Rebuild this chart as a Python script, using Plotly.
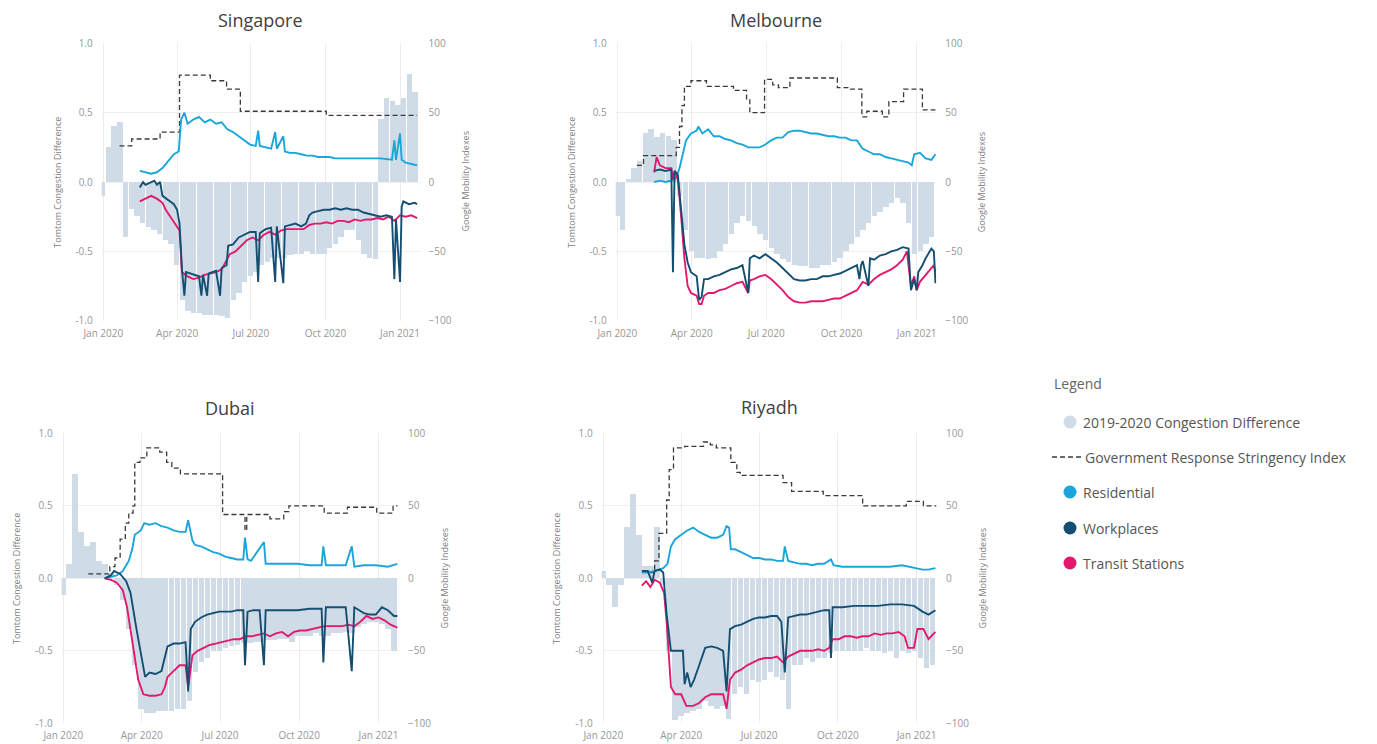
import plotly.graph_objects as go
import pandas as pd

# ---------------- DATA ----------------
# days are offsets from 2020-01-01
week_days = list(range(-1, 385, 7))  # weekly bar positions (56 weeks)

tick_dates = ["2020-01-01", "2020-04-01", "2020-07-01", "2020-10-01", "2021-01-01"]
tick_labels = ["Jan 2020", "Apr 2020", "Jul 2020", "Oct 2020", "Jan 2021"]
left_ticks = [-1, -0.5, 0, 0.5, 1]
left_labels = ["-1.0", "-0.5", "0.0", "0.5", "1.0"]
right_ticks = [-100, -50, 0, 50, 100]

city_names = ["Singapore", "Melbourne", "Dubai", "Riyadh"]
legend_names = ["2019-2020 Congestion Difference", "Government Response Stringency Index",
                "Residential", "Workplaces", "Transit Stations"]

# ---- Singapore ----
sg_bar = [-0.10, 0.25, 0.40, 0.43, -0.40, -0.20, -0.25, -0.30, -0.33, -0.35,
          -0.38, -0.42, -0.45, -0.60, -0.85, -0.93, -0.95, -0.95, -0.96, -0.96,
          -0.96, -0.97, -0.98, -0.85, -0.80, -0.72, -0.68, -0.65, -0.60, -0.58,
          -0.55, -0.55, -0.55, -0.53, -0.52, -0.52, -0.50, -0.52, -0.52, -0.52,
          -0.48, -0.45, -0.40, -0.35, -0.35, -0.42, -0.52, -0.55, -0.56, 0.45,
          0.60, 0.58, 0.55, 0.60, 0.78, 0.65]
sg_str_days = [20, 35, 70, 94, 132, 152, 169, 275, 387]
sg_str = [26, 31, 36, 77, 73, 67, 51, 48, 48]
sg_res_days = [45, 52, 59, 66, 73, 80, 87, 93, 96, 100, 104, 111, 118, 125, 132, 139, 146, 153, 160, 167,
               174, 181, 188, 191, 193, 200, 207, 212, 214, 222, 224, 230, 237, 244, 251, 258, 265, 272, 279, 286,
               300, 314, 328, 342, 356, 359, 361, 366, 368, 373, 380, 387]
sg_res = [8, 7, 6, 7, 10, 15, 20, 22, 45, 50, 42, 45, 47, 43, 45, 42, 43, 38, 36, 33,
          30, 27, 26, 37, 26, 25, 24, 36, 24, 33, 22, 21, 21, 20, 19, 19, 18, 18, 18, 17,
          17, 17, 17, 17, 16, 30, 16, 35, 16, 14, 13, 12]
sg_wp_days = [45, 49, 52, 59, 63, 66, 70, 73, 80, 87, 91, 94, 97, 100, 102, 111, 118, 121, 123, 128,
              130, 139, 144, 146, 152, 154, 160, 167, 174, 181, 188, 191, 193, 200, 207, 212, 214, 222, 224, 230,
              237, 244, 250, 254, 258, 265, 272, 279, 286, 293, 300, 307, 314, 321, 328, 335, 342, 349, 356, 359,
              361, 366, 368, 370, 377, 384, 387]
sg_wp = [-4, 0, -2, 0, 1, -2, 0, -10, -13, -16, -20, -30, -63, -82, -65, -67, -68, -82, -67, -82,
         -66, -64, -82, -62, -60, -46, -45, -40, -38, -36, -36, -72, -37, -34, -33, -72, -32, -73, -32, -31,
         -30, -32, -30, -24, -22, -21, -20, -20, -19, -20, -19, -20, -20, -22, -23, -24, -25, -24, -25, -70,
         -27, -72, -18, -14, -16, -15, -16]
sg_tr_days = [45, 52, 59, 66, 73, 77, 84, 91, 94, 97, 104, 111, 118, 125, 132, 139, 146, 153, 156, 163,
              170, 177, 184, 191, 198, 205, 212, 219, 226, 233, 240, 247, 254, 261, 268, 275, 282, 289, 296, 303,
              310, 317, 324, 331, 338, 345, 352, 359, 366, 373, 380, 387]
sg_tr = [-14, -12, -10, -12, -15, -20, -26, -32, -35, -65, -68, -70, -69, -67, -66, -65, -63, -56, -52, -50,
         -46, -42, -40, -42, -38, -36, -38, -35, -34, -34, -34, -34, -31, -30, -30, -29, -30, -28, -28, -29,
         -27, -28, -27, -27, -26, -27, -25, -28, -24, -25, -24, -26]

# ---- Melbourne ----
mel_bar = [-0.25, -0.35, 0.02, 0.10, 0.15, 0.35, 0.38, 0.32, 0.35, 0.33,
           0.30, -0.10, -0.35, -0.50, -0.55, -0.55, -0.56, -0.55, -0.50, -0.45,
           -0.38, -0.30, -0.25, -0.28, -0.32, -0.38, -0.42, -0.48, -0.52, -0.56,
           -0.58, -0.60, -0.61, -0.61, -0.62, -0.62, -0.60, -0.60, -0.58, -0.55,
           -0.50, -0.45, -0.40, -0.35, -0.30, -0.25, -0.22, -0.18, -0.15, -0.12,
           -0.15, -0.30, -0.52, -0.50, -0.45, -0.40]
mel_str_days = [24, 32, 72, 76, 79, 82, 90, 109, 142, 158, 162, 180, 190, 197, 211, 269, 285, 299, 305, 324,
                332, 350, 373, 389]
mel_str = [12, 19, 25, 40, 55, 69, 73, 69, 66, 60, 50, 74, 70, 68, 75, 68, 67, 47, 51, 47,
           58, 67, 52, 52]
mel_res_days = [45, 52, 59, 66, 72, 76, 80, 84, 90, 97, 99, 104, 111, 118, 125, 132, 139, 146, 153, 160,
                167, 174, 181, 188, 195, 202, 209, 216, 223, 230, 237, 244, 251, 258, 265, 272, 279, 286, 293, 300,
                307, 314, 321, 328, 335, 342, 349, 356, 360, 363, 370, 377, 384, 389]
mel_res = [0, 1, 0, 1, 3, 10, 20, 30, 35, 37, 40, 35, 38, 33, 33, 31, 30, 28, 27, 25,
           25, 25, 27, 30, 32, 32, 36, 37, 37, 36, 35, 35, 34, 33, 33, 32, 32, 30, 30, 24,
           22, 20, 20, 18, 17, 16, 15, 14, 12, 20, 21, 17, 16, 20]
mel_wp_days = [45, 52, 59, 66, 68, 70, 74, 78, 82, 86, 90, 97, 100, 103, 106, 111, 118, 125, 132, 139,
               146, 153, 160, 162, 167, 174, 181, 188, 195, 202, 209, 216, 223, 230, 237, 244, 251, 258, 265, 272,
               279, 286, 293, 296, 298, 300, 307, 309, 314, 321, 328, 335, 342, 349, 356, 359, 363, 366, 368, 373,
               377, 384, 387, 389]
mel_wp = [8, 9, 8, 9, -65, 8, 5, -20, -45, -58, -65, -68, -85, -83, -70, -70, -68, -67, -65, -63,
          -62, -60, -80, -55, -53, -55, -52, -55, -58, -62, -66, -70, -71, -71, -70, -70, -68, -68, -67, -66,
          -64, -62, -60, -70, -60, -57, -75, -55, -56, -53, -52, -50, -49, -47, -48, -78, -70, -78, -65, -60,
          -55, -48, -50, -73]
mel_tr_days = [45, 48, 52, 59, 66, 68, 70, 74, 78, 82, 86, 90, 97, 100, 103, 106, 111, 118, 125, 132,
               139, 146, 153, 160, 162, 167, 174, 181, 188, 195, 202, 209, 216, 223, 230, 237, 244, 251, 258, 265,
               272, 279, 286, 293, 300, 307, 314, 321, 328, 335, 342, 349, 354, 359, 363, 366, 370, 377, 384, 387,
               389]
mel_tr = [7, 18, 12, 10, 10, 2, 8, 2, -25, -55, -75, -80, -82, -88, -88, -82, -80, -80, -78, -77,
          -75, -73, -72, -80, -71, -70, -68, -67, -70, -74, -78, -83, -86, -87, -87, -86, -86, -86, -85, -84,
          -84, -82, -80, -78, -72, -74, -70, -67, -65, -63, -60, -56, -50, -75, -68, -78, -72, -67, -62, -60,
          -65]

# ---- Dubai ----
dxb_bar = [-0.12, 0.10, 0.72, 0.32, 0.22, 0.25, 0.12, 0.10, 0.03, -0.05,
           -0.15, -0.35, -0.60, -0.90, -0.93, -0.93, -0.92, -0.92, -0.92, -0.90,
           -0.90, -0.85, -0.65, -0.58, -0.55, -0.50, -0.50, -0.48, -0.47, -0.46,
           -0.45, -0.45, -0.44, -0.44, -0.43, -0.43, -0.42, -0.42, -0.44, -0.40,
           -0.40, -0.40, -0.38, -0.40, -0.40, -0.38, -0.38, -0.37, -0.38, -0.34,
           -0.32, -0.30, -0.30, -0.32, -0.35, -0.50]
dxb_str_days = [29, 50, 54, 60, 66, 72, 76, 81, 83, 89, 97, 109, 112, 120, 126, 136, 185, 211, 213, 240,
                256, 262, 303, 330, 364, 383, 388]
dxb_str = [3, 3, 8, 14, 27, 38, 45, 50, 80, 83, 90, 90, 87, 80, 76, 72, 44, 33, 44, 41,
           46, 50, 45, 49, 45, 50, 50]
dxb_res_days = [48, 55, 62, 69, 76, 80, 83, 90, 94, 100, 107, 114, 121, 128, 135, 142, 145, 150, 153, 160,
                167, 174, 181, 188, 195, 202, 209, 211, 214, 218, 233, 235, 244, 258, 272, 286, 300, 302, 305, 314,
                328, 335, 338, 349, 363, 377, 388]
dxb_res = [0, 1, 2, 5, 12, 20, 30, 33, 38, 37, 38, 36, 35, 33, 32, 32, 40, 26, 23, 22,
           20, 18, 17, 15, 14, 13, 13, 28, 13, 12, 25, 10, 10, 10, 10, 9, 9, 22, 9, 9,
           9, 22, 8, 9, 9, 8, 10]
dxb_wp_days = [48, 55, 59, 66, 73, 78, 85, 91, 95, 100, 107, 114, 118, 121, 128, 135, 142, 145, 148, 153,
               160, 167, 174, 181, 188, 195, 202, 209, 211, 214, 221, 228, 233, 235, 244, 258, 272, 286, 300, 302,
               305, 314, 328, 335, 338, 349, 356, 363, 370, 377, 384, 388]
dxb_wp = [0, 2, 5, 3, -2, -10, -35, -55, -68, -65, -66, -64, -55, -47, -45, -45, -44, -78, -35, -30,
          -27, -25, -24, -23, -23, -23, -22, -22, -60, -23, -22, -22, -60, -22, -22, -22, -22, -21, -21, -58,
          -20, -20, -20, -64, -20, -24, -25, -25, -20, -22, -26, -26]
dxb_tr_days = [48, 55, 62, 69, 74, 79, 87, 93, 100, 107, 114, 118, 121, 128, 135, 142, 145, 150, 156, 163,
               170, 177, 184, 191, 198, 205, 212, 219, 226, 233, 240, 247, 254, 261, 268, 275, 282, 289, 296, 303,
               310, 317, 324, 331, 338, 345, 352, 359, 366, 373, 380, 388]
dxb_tr = [0, -1, -3, -8, -20, -40, -70, -80, -81, -81, -80, -75, -68, -64, -60, -60, -75, -53, -50, -48,
          -46, -45, -44, -43, -42, -42, -40, -40, -39, -38, -40, -38, -37, -40, -37, -36, -36, -35, -34, -33,
          -33, -33, -33, -32, -33, -30, -26, -28, -27, -29, -32, -34]

# ---- Riyadh ----
ruh_bar = [0.05, -0.05, -0.20, -0.05, 0.35, 0.58, 0.30, 0.08, 0.08, 0.35,
           -0.05, -0.50, -0.98, -0.95, -0.93, -0.92, -0.90, -0.85, -0.88, -0.90,
           -0.88, -0.97, -0.80, -0.75, -0.80, -0.70, -0.72, -0.70, -0.65, -0.68,
           -0.70, -0.90, -0.60, -0.60, -0.55, -0.58, -0.55, -0.55, -0.52, -0.50,
           -0.50, -0.50, -0.50, -0.50, -0.48, -0.50, -0.50, -0.52, -0.50, -0.55,
           -0.50, -0.52, -0.50, -0.55, -0.62, -0.60]
ruh_str_days = [54, 60, 65, 74, 77, 82, 95, 117, 125, 132, 149, 156, 160, 210, 220, 257, 303, 354, 374, 389]
ruh_str = [4, 12, 31, 54, 75, 90, 91, 94, 92, 90, 80, 73, 71, 66, 60, 57, 50, 53, 50, 50]
ruh_res_days = [45, 52, 59, 66, 70, 75, 79, 84, 91, 98, 105, 112, 119, 126, 133, 140, 144, 147, 149, 154,
                161, 168, 175, 182, 189, 196, 203, 210, 212, 216, 223, 230, 237, 244, 251, 258, 266, 269, 279, 293,
                307, 321, 335, 349, 363, 373, 380, 388]
ruh_res = [4, 4, 5, 6, 7, 10, 22, 27, 30, 33, 35, 32, 30, 28, 28, 30, 36, 35, 20, 20,
           18, 16, 14, 14, 13, 13, 12, 12, 22, 12, 11, 10, 10, 9, 10, 10, 13, 9, 8, 8,
           8, 8, 8, 9, 7, 6, 6, 7]
ruh_wp_days = [45, 52, 57, 60, 66, 70, 74, 79, 86, 93, 95, 98, 102, 106, 112, 119, 126, 133, 140, 144,
               148, 154, 161, 168, 175, 182, 189, 196, 203, 208, 212, 216, 223, 230, 237, 244, 251, 258, 264, 266,
               268, 279, 293, 307, 321, 335, 349, 363, 373, 380, 388]
ruh_wp = [5, 5, -3, 5, 6, 4, -25, -50, -50, -50, -73, -65, -75, -70, -60, -48, -47, -48, -50, -78,
          -35, -33, -32, -30, -28, -27, -27, -26, -26, -30, -65, -27, -26, -25, -25, -24, -23, -22, -22, -55,
          -20, -20, -19, -19, -19, -18, -18, -19, -23, -25, -22]
ruh_tr_days = [45, 50, 55, 60, 66, 71, 74, 79, 84, 91, 97, 105, 112, 119, 126, 133, 140, 144, 148, 154,
               161, 168, 175, 182, 189, 196, 203, 210, 216, 223, 230, 237, 244, 251, 258, 264, 268, 275, 282, 289,
               296, 303, 310, 317, 324, 331, 338, 345, 352, 356, 363, 367, 374, 380, 388]
ruh_tr = [-5, -2, -6, -1, -3, -10, -30, -75, -80, -80, -88, -88, -86, -82, -80, -80, -80, -90, -70, -65,
          -63, -60, -58, -56, -55, -55, -54, -58, -54, -52, -50, -50, -50, -49, -50, -48, -42, -42, -40, -40,
          -41, -40, -40, -38, -39, -38, -38, -37, -40, -48, -48, -35, -35, -42, -37]

# ---------------- STYLE / LAYOUT ----------------
W, H = 1377, 744
FONT = "Segoe UI, 'Open Sans', sans-serif"
C_BAR = "#D0DBE8"
C_STR = "#3a3a3a"
C_RES = "#1AA6DA"
C_WP = "#144F72"
C_TR = "#E3196E"
X_RANGE = ["2019-12-30", "2021-01-25"]
# pixel geometry of each plot area: left, right, top, bottom
GEOM = [(101.7, 419.5, 43.3, 320.7), (615.7, 936.3, 43.3, 320.7),
        (61.6, 399.1, 433.3, 723.3), (601.6, 937.1, 433.3, 723.3)]
TITLE_Y = [20, 20, 408, 407]
# manual legend geometry (pixels)
LEG_TITLE_XY = (1052, 383)
LEG_ROWS_Y = [422, 457, 492, 528, 563]
LEG_SYM_X = 1070
LEG_TEXT_X = 1081

BASE = pd.Timestamp("2020-01-01")


def to_dates(days):
    return [(BASE + pd.Timedelta(days=int(d))).strftime("%Y-%m-%d") for d in days]


def fx(px):
    return px / W


def fy(py):
    return 1 - py / H


city_data = [
    (sg_bar, sg_str_days, sg_str, sg_res_days, sg_res, sg_wp_days, sg_wp, sg_tr_days, sg_tr),
    (mel_bar, mel_str_days, mel_str, mel_res_days, mel_res, mel_wp_days, mel_wp, mel_tr_days, mel_tr),
    (dxb_bar, dxb_str_days, dxb_str, dxb_res_days, dxb_res, dxb_wp_days, dxb_wp, dxb_tr_days, dxb_tr),
    (ruh_bar, ruh_str_days, ruh_str, ruh_res_days, ruh_res, ruh_wp_days, ruh_wp, ruh_tr_days, ruh_tr),
]

fig = go.Figure()
layout = {}
annotations = []
shapes = []

for i, (name, data, geom) in enumerate(zip(city_names, city_data, GEOM)):
    bars, s_d, s_v, r_d, r_v, w_d, w_v, t_d, t_v = data
    x0, x1, yt, yb = geom
    xa = "x" if i == 0 else f"x{i + 1}"
    yl = "y" if i == 0 else f"y{2 * i + 1}"
    yr = f"y{2 * i + 2}"
    xkey = "xaxis" if i == 0 else f"xaxis{i + 1}"
    ylkey = "yaxis" if i == 0 else f"yaxis{2 * i + 1}"
    yrkey = f"yaxis{2 * i + 2}"

    fig.add_trace(go.Bar(x=to_dates(week_days[:len(bars)]), y=bars,
                         width=[6.6 * 86400000] * len(bars),
                         marker=dict(color=C_BAR, line=dict(width=0)),
                         xaxis=xa, yaxis=yl, showlegend=False, hoverinfo="skip"))
    fig.add_trace(go.Scatter(x=to_dates(s_d), y=s_v, mode="lines", line_shape="hv",
                             line=dict(color=C_STR, width=1.3, dash="5px,3px"),
                             xaxis=xa, yaxis=yr, showlegend=False, hoverinfo="skip"))
    fig.add_trace(go.Scatter(x=to_dates(r_d), y=r_v, mode="lines",
                             line=dict(color=C_RES, width=1.9),
                             xaxis=xa, yaxis=yr, showlegend=False, hoverinfo="skip"))
    fig.add_trace(go.Scatter(x=to_dates(t_d), y=t_v, mode="lines",
                             line=dict(color=C_TR, width=1.9),
                             xaxis=xa, yaxis=yr, showlegend=False, hoverinfo="skip"))
    fig.add_trace(go.Scatter(x=to_dates(w_d), y=w_v, mode="lines",
                             line=dict(color=C_WP, width=1.9),
                             xaxis=xa, yaxis=yr, showlegend=False, hoverinfo="skip"))

    tickfont = dict(family=FONT, size=10, color="#979797")
    layout[xkey] = dict(domain=[fx(x0), fx(x1)], anchor=yl, type="date", range=X_RANGE,
                        tickvals=tick_dates, ticktext=tick_labels, showgrid=True,
                        gridcolor="#ECECEC", gridwidth=1, zeroline=False, showline=False,
                        ticks="", tickfont=tickfont, ticklabelstandoff=5, automargin=False)
    layout[ylkey] = dict(domain=[fy(yb), fy(yt)], anchor=xa, range=[-1, 1],
                         tickvals=left_ticks, ticktext=left_labels, showgrid=True,
                         gridcolor="#EFEFEF", zeroline=False, showline=False, ticks="",
                         tickfont=tickfont, ticklabelstandoff=8, automargin=False)
    layout[yrkey] = dict(overlaying=yl, anchor=xa, side="right", range=[-100, 100],
                         tickvals=right_ticks, showgrid=False, zeroline=False,
                         showline=False, ticks="", tickfont=tickfont, ticklabelstandoff=8,
                         automargin=False)

    annotations.append(dict(text=name, x=fx((x0 + x1) / 2), y=fy(TITLE_Y[i]),
                            xref="paper", yref="paper", showarrow=False,
                            xanchor="center", yanchor="middle",
                            font=dict(family=FONT, size=18, color="#404040")))
    annotations.append(dict(text="Tomtom Congestion Difference", x=fx(x0 - 45),
                            y=fy((yt + yb) / 2), xref="paper", yref="paper",
                            showarrow=False, textangle=-90, xanchor="center", yanchor="middle",
                            font=dict(family=FONT, size=9, color="#808080")))
    annotations.append(dict(text="Google Mobility Indexes", x=fx(x1 + 45),
                            y=fy((yt + yb) / 2), xref="paper", yref="paper",
                            showarrow=False, textangle=-90, xanchor="center", yanchor="middle",
                            font=dict(family=FONT, size=9, color="#808080")))

# ---- manual legend (text as annotations, symbols as shapes) ----
annotations.append(dict(text="Legend", x=fx(LEG_TITLE_XY[0]), y=fy(LEG_TITLE_XY[1]),
                        xref="paper", yref="paper", showarrow=False, xanchor="left",
                        yanchor="middle", font=dict(family=FONT, size=14, color="#666666")))
legend_colors = [C_BAR, None, C_RES, C_WP, C_TR]
for nm, col, ry in zip(legend_names, legend_colors, LEG_ROWS_Y):
    if col is None:
        shapes.append(dict(type="line", xref="paper", yref="paper",
                           x0=fx(1052), x1=fx(LEG_TEXT_X), y0=fy(ry), y1=fy(ry),
                           line=dict(color=C_STR, width=1.5, dash="5px,3px")))
    else:
        shapes.append(dict(type="circle", xref="paper", yref="paper",
                           xsizemode="pixel", ysizemode="pixel",
                           xanchor=fx(LEG_SYM_X), yanchor=fy(ry),
                           x0=-6.5, x1=6.5, y0=-6.5, y1=6.5,
                           fillcolor=col, line=dict(width=0)))
    annotations.append(dict(text=nm, x=fx(LEG_TEXT_X + (2 if col is None else 0)), y=fy(ry),
                            xref="paper", yref="paper", showarrow=False, xanchor="left",
                            yanchor="middle", font=dict(family=FONT, size=14, color="#555555")))

fig.update_layout(
    template="none",
    width=W, height=H, margin=dict(l=0, r=0, t=0, b=0, autoexpand=False),
    paper_bgcolor="white", plot_bgcolor="white",
    font=dict(family=FONT, color="#555555"),
    bargap=0, showlegend=False,
    annotations=annotations, shapes=shapes,
    **layout,
)

fig.write_html("out.html", config={"displayModeBar": False},
               post_script="document.body.style.margin='0px';")
